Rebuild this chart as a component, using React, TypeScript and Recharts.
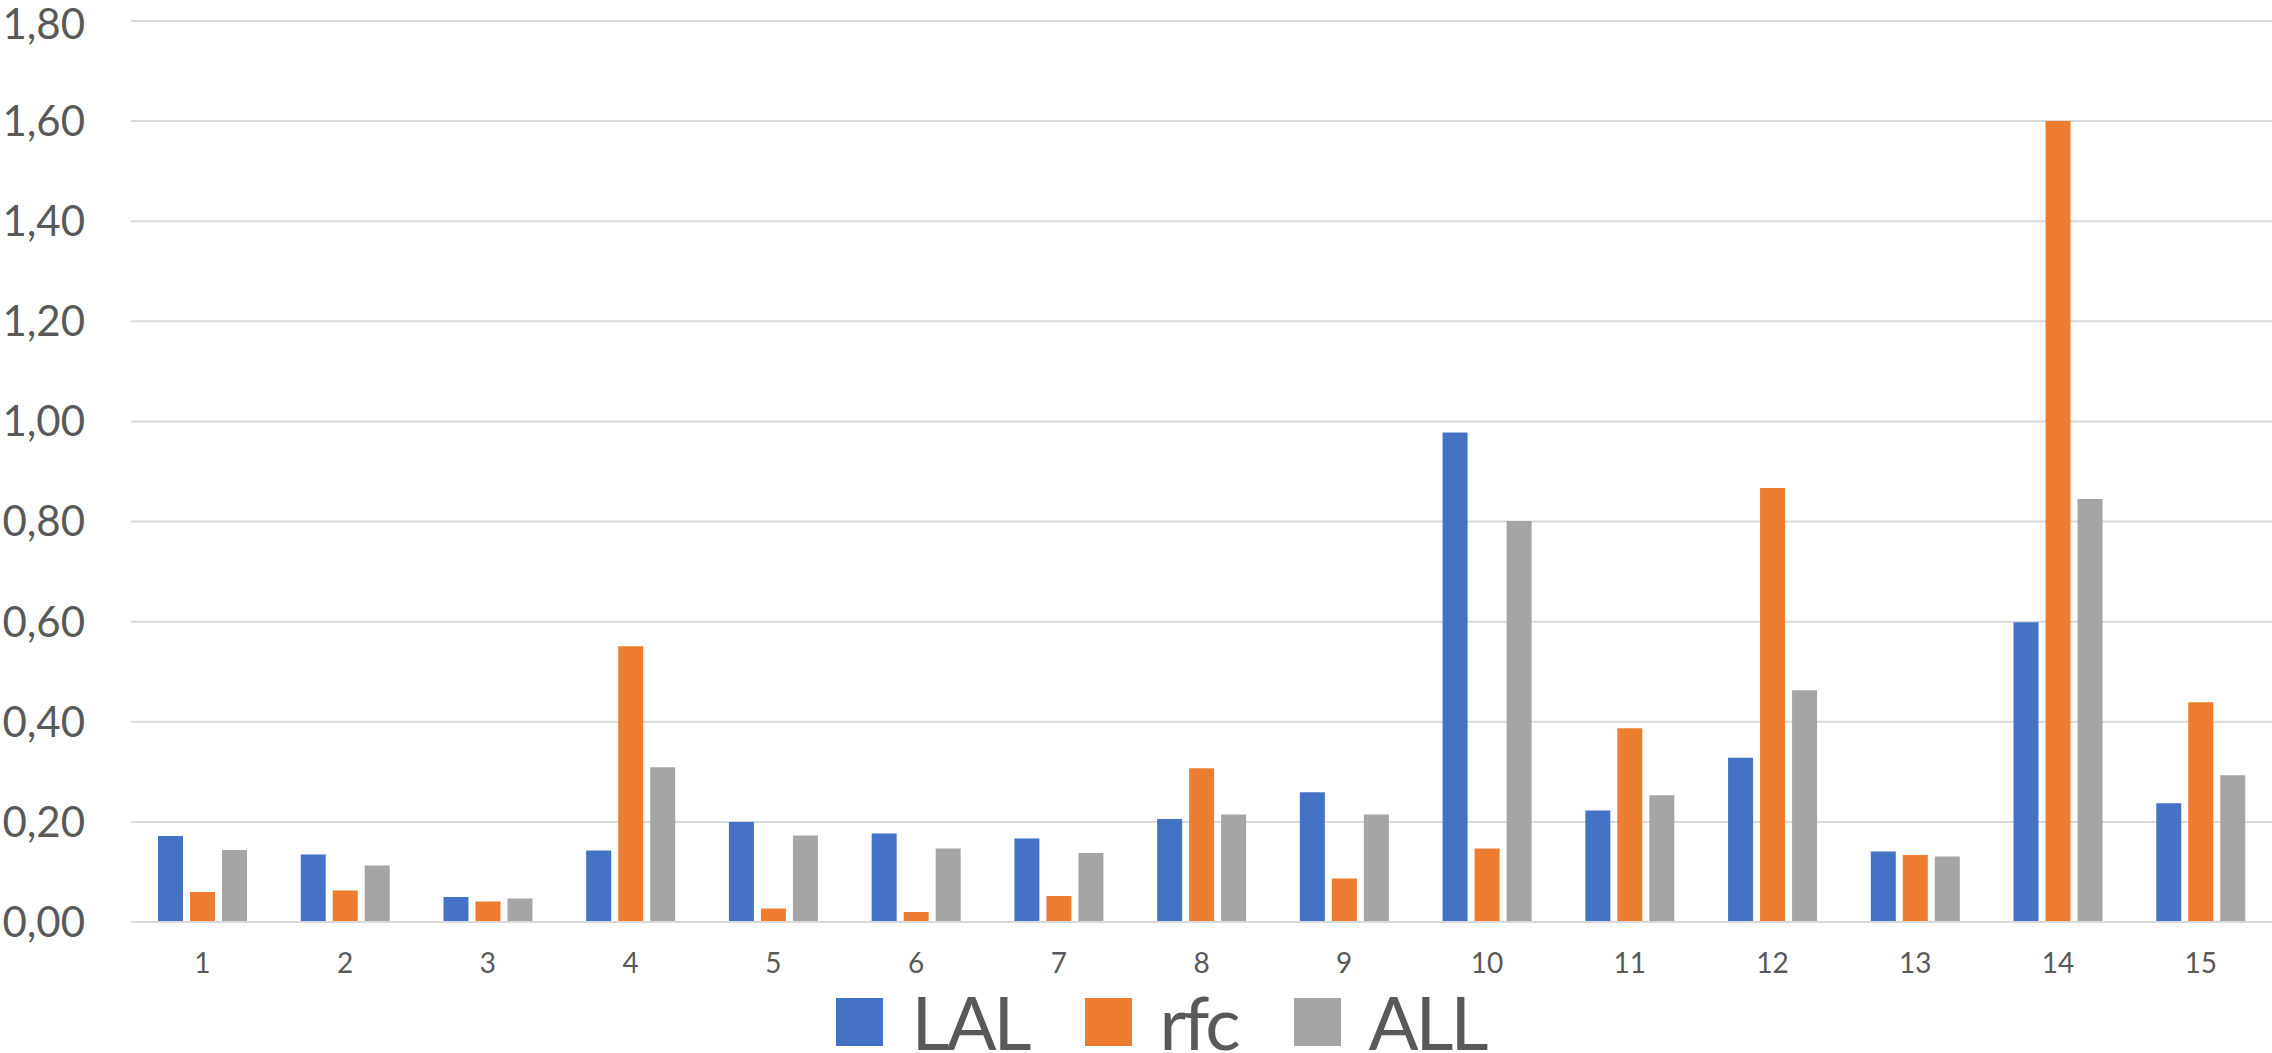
import React from "react";
import { Bar, BarChart, CartesianGrid, Legend, XAxis, YAxis } from "recharts";

const categories = ["1", "2", "3", "4", "5", "6", "7", "8", "9", "10", "11", "12", "13", "14", "15"];
const lal = [0.172, 0.135, 0.05, 0.143, 0.2, 0.177, 0.167, 0.206, 0.259, 0.978, 0.223, 0.328, 0.141, 0.599, 0.237];
const rfc = [0.06, 0.063, 0.041, 0.551, 0.027, 0.02, 0.052, 0.307, 0.087, 0.147, 0.387, 0.867, 0.134, 1.6, 0.439];
const all = [0.144, 0.113, 0.047, 0.309, 0.173, 0.147, 0.138, 0.215, 0.215, 0.801, 0.253, 0.463, 0.131, 0.845, 0.293];
const yTicks = [0, 0.2, 0.4, 0.6, 0.8, 1.0, 1.2, 1.4, 1.6, 1.8];

const SERIES = [
  { key: "LAL", color: "#4472C4" },
  { key: "rfc", color: "#ED7D31" },
  { key: "ALL", color: "#A5A5A5" },
];

const data = categories.map((c, i) => ({ name: c, LAL: lal[i], rfc: rfc[i], ALL: all[i] }));

const FONT = "Lato, 'Open Sans', sans-serif";
const TEXT = "#595959";

const fmt = (v: number) => v.toFixed(2).replace(".", ",");

function ChartLegend() {
  return (
    <div
      style={{
        height: 62,
        display: "flex",
        alignItems: "center",
        justifyContent: "center",
        paddingLeft: 106,
        fontFamily: FONT,
        color: TEXT,
        overflow: "hidden",
      }}
    >
      {SERIES.map((s) => (
        <div key={s.key} style={{ display: "flex", alignItems: "center", marginRight: 56, height: 56 }}>
          <span style={{ width: 47, height: 48, background: s.color, display: "inline-block", marginRight: 28 }} />
          <span style={{ fontSize: 74, lineHeight: "56px", height: 56, letterSpacing: -3 }}>{s.key}</span>
        </div>
      ))}
    </div>
  );
}

export default function App() {
  return (
    <div style={{ position: "absolute", left: 0, top: 0, width: 2272, height: 1053, background: "#fff" }}>
      <BarChart width={2272} height={1053} data={data} margin={{ top: 21, right: 0, left: 0, bottom: 0 }} barSize={25} barGap={7}>
        <CartesianGrid vertical={false} stroke="#D9D9D9" strokeWidth={2} />
        <XAxis
          dataKey="name"
          height={69}
          axisLine={{ stroke: "#D9D9D9", strokeWidth: 2 }}
          tickLine={false}
          tickSize={0}
          tickMargin={31}
          tick={{ fill: TEXT, fontSize: 28, fontFamily: FONT }}
          interval={0}
        />
        <YAxis
          width={131}
          domain={[0, 1.8]}
          ticks={yTicks}
          axisLine={false}
          tickLine={false}
          tickSize={0}
          tickMargin={46}
          tickFormatter={fmt}
          tick={{ fill: TEXT, fontSize: 42, fontFamily: FONT }}
        />
        <Legend verticalAlign="bottom" content={() => <ChartLegend />} />
        {SERIES.map((s) => (
          <Bar key={s.key} dataKey={s.key} fill={s.color} isAnimationActive={false} />
        ))}
      </BarChart>
    </div>
  );
}
